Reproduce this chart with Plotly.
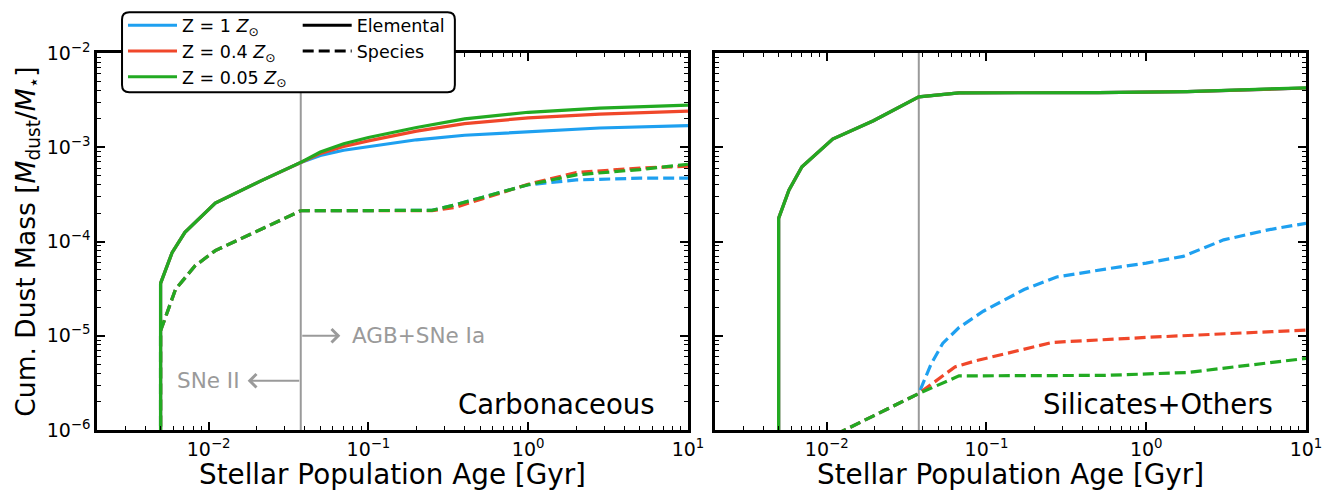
import numpy as np
import plotly.graph_objects as go

# ---------------- data ----------------
T_SPLIT = 0.0377  # Gyr, SNe II / AGB+SNe Ia boundary

# Carbonaceous, elemental (solid)
carb_el_t_early = [0.005, 0.005, 0.0059, 0.0071, 0.0110, 0.0209, 0.0377]
carb_el_v_early = [1e-8, 3.6e-5, 7.6e-5, 1.25e-4, 2.55e-4, 4.35e-4, 6.9e-4]
carb_el_t_late = [0.0377, 0.05, 0.07, 0.1, 0.2, 0.4, 1.0, 2.8, 10.0]
carb_el_blue = [6.9e-4, 8.2e-4, 9.3e-4, 1.02e-3, 1.2e-3, 1.34e-3, 1.47e-3, 1.6e-3, 1.7e-3]
carb_el_red = [6.9e-4, 8.6e-4, 1.02e-3, 1.17e-3, 1.48e-3, 1.78e-3, 2.05e-3, 2.25e-3, 2.42e-3]
carb_el_green = [6.9e-4, 8.9e-4, 1.09e-3, 1.27e-3, 1.62e-3, 2.0e-3, 2.35e-3, 2.6e-3, 2.8e-3]

# Carbonaceous, species (dashed)
carb_sp_t = [0.005, 0.005, 0.0062, 0.0082, 0.0110, 0.0377, 0.25, 0.35, 0.52, 1.0, 2.0, 5.0, 10.0]
carb_sp_blue = [1e-8, 1.13e-5, 3.1e-5, 5.5e-5, 8.0e-5, 2.12e-4, 2.14e-4, 2.45e-4, 2.95e-4, 4.0e-4, 4.5e-4, 4.7e-4, 4.7e-4]
carb_sp_red = [1e-8, 1.13e-5, 3.1e-5, 5.5e-5, 8.0e-5, 2.12e-4, 2.12e-4, 2.3e-4, 2.85e-4, 4.05e-4, 5.4e-4, 6.0e-4, 6.3e-4]
carb_sp_green = [1e-8, 1.13e-5, 3.1e-5, 5.5e-5, 8.0e-5, 2.12e-4, 2.14e-4, 2.45e-4, 2.95e-4, 4.0e-4, 5.1e-4, 5.8e-4, 6.6e-4]

# Silicates+Others, elemental (solid, all metallicities overlap)
sil_el_t = [0.005, 0.005, 0.0058, 0.0070, 0.0109, 0.0196, 0.0377, 0.0673, 0.5, 1.8, 10.0]
sil_el_blue = [1e-8, 1.76e-4, 3.5e-4, 6.2e-4, 1.22e-3, 1.91e-3, 3.43e-3, 3.78e-3, 3.8e-3, 3.9e-3, 4.25e-3]
sil_el_red = [1e-8, 1.76e-4, 3.5e-4, 6.2e-4, 1.22e-3, 1.91e-3, 3.43e-3, 3.78e-3, 3.8e-3, 3.9e-3, 4.25e-3]
sil_el_green = [1e-8, 1.76e-4, 3.5e-4, 6.2e-4, 1.22e-3, 1.91e-3, 3.43e-3, 3.78e-3, 3.8e-3, 3.9e-3, 4.27e-3]

# Silicates+Others, species (dashed)
sil_sp_t_early = [0.005, 0.0109, 0.0196, 0.0377]
sil_sp_v_early = [4.5e-7, 8.6e-7, 1.41e-6, 2.44e-6]
sil_sp_blue_t = [0.0377, 0.045, 0.0532, 0.0673, 0.0955, 0.172, 0.275, 0.556, 1.0, 1.7, 3.05, 5.8, 10.0]
sil_sp_blue = [2.44e-6, 5.0e-6, 8.3e-6, 1.22e-5, 1.82e-5, 3.09e-5, 4.2e-5, 5.1e-5, 5.9e-5, 6.95e-5, 1.04e-4, 1.33e-4, 1.56e-4]
sil_sp_red_t = [0.0377, 0.0635, 0.0849, 0.259, 1.0, 10.0]
sil_sp_red = [2.44e-6, 4.67e-6, 5.4e-6, 8.5e-6, 9.6e-6, 1.15e-5]
sil_sp_green_t = [0.0377, 0.0673, 0.556, 1.8, 3.2, 10.0]
sil_sp_green = [2.44e-6, 3.75e-6, 3.8e-6, 4.07e-6, 4.6e-6, 5.75e-6]

LABELS = ["Z = 1 <i>Z</i><sub>⊙</sub>", "Z = 0.4 <i>Z</i><sub>⊙</sub>", "Z = 0.05 <i>Z</i><sub>⊙</sub>"]
COLORS = ["#1EA0F0", "#F0472A", "#22AA22"]
GRAY = "#9a9a9a"

XTICKS = [1e-2, 1e-1, 1, 10]
XTICKTEXT = ["10<sup>−2</sup>", "10<sup>−1</sup>", "10<sup>0</sup>", "10<sup>1</sup>"]
YTICKS = [1e-6, 1e-5, 1e-4, 1e-3, 1e-2]
YTICKTEXT = ["10<sup>−6</sup>", "10<sup>−5</sup>", "10<sup>−4</sup>", "10<sup>−3</sup>", "10<sup>−2</sup>"]

FONT = "DejaVu Sans"
LW = 3.2
DASH = "11px,5px"

fig = go.Figure()

# vertical boundary lines
for xa, ya in [("x", "y"), ("x2", "y2")]:
    fig.add_trace(go.Scatter(x=[T_SPLIT, T_SPLIT], y=[1e-7, 1], mode="lines",
                             line=dict(color=GRAY, width=2), xaxis=xa, yaxis=ya,
                             showlegend=False, hoverinfo="skip"))

carb_el_late = [carb_el_blue, carb_el_red, carb_el_green]
carb_sp = [carb_sp_blue, carb_sp_red, carb_sp_green]
sil_el = [sil_el_blue, sil_el_red, sil_el_green]
sil_sp = [(sil_sp_blue_t, sil_sp_blue), (sil_sp_red_t, sil_sp_red), (sil_sp_green_t, sil_sp_green)]

for i in range(3):
    c = COLORS[i]
    # left panel
    fig.add_trace(go.Scatter(x=carb_sp_t, y=carb_sp[i], mode="lines",
                             line=dict(color=c, width=LW, dash=DASH),
                             xaxis="x", yaxis="y", showlegend=False))
    fig.add_trace(go.Scatter(x=carb_el_t_early + carb_el_t_late[1:],
                             y=carb_el_v_early + carb_el_late[i][1:], mode="lines",
                             line=dict(color=c, width=LW), name=LABELS[i],
                             xaxis="x", yaxis="y", showlegend=True, legend="legend"))
    # right panel
    st, sv = sil_sp[i]
    fig.add_trace(go.Scatter(x=sil_sp_t_early + st[1:], y=sil_sp_v_early + sv[1:], mode="lines",
                             line=dict(color=c, width=LW, dash=DASH),
                             xaxis="x2", yaxis="y2", showlegend=False))
    fig.add_trace(go.Scatter(x=sil_el_t, y=sil_el[i], mode="lines",
                             line=dict(color=c, width=LW),
                             xaxis="x2", yaxis="y2", showlegend=False))

# line-style legend entries
fig.add_trace(go.Scatter(x=[np.nan], y=[np.nan], mode="lines", name="Elemental",
                         line=dict(color="black", width=LW), xaxis="x", yaxis="y",
                         legend="legend2"))
fig.add_trace(go.Scatter(x=[np.nan], y=[np.nan], mode="lines", name="Species",
                         line=dict(color="black", width=LW, dash=DASH), xaxis="x", yaxis="y",
                         legend="legend2"))

minor_x = [m * 10.0 ** e for e in range(-3, 1) for m in range(2, 10)]
minor_y = [m * 10.0 ** e for e in range(-6, -2) for m in range(2, 10)]

axis_common = dict(type="log", showline=True, linecolor="black", linewidth=2.5,
                   mirror="allticks", ticks="inside", ticklen=8, tickwidth=2.2,
                   tickcolor="black", showgrid=False, zeroline=False,
                   tickfont=dict(family=FONT, size=19, color="black"))

xa = dict(axis_common, range=[np.log10(0.002), 1], tickmode="array",
          tickvals=XTICKS, ticktext=XTICKTEXT,
          minor=dict(ticks="inside", ticklen=4, tickwidth=1.3, tickcolor="black",
                     tickmode="array", tickvals=minor_x, showgrid=False),
          title=dict(text="Stellar Population Age [Gyr]",
                     font=dict(family=FONT, size=27.8, color="black"), standoff=5))
ya = dict(axis_common, range=[-6, -2], tickmode="array",
          tickvals=YTICKS, ticktext=YTICKTEXT,
          minor=dict(ticks="inside", ticklen=4, tickwidth=1.3, tickcolor="black",
                     tickmode="array", tickvals=minor_y, showgrid=False))

LEGFONT = dict(family=FONT, size=17.5, color="black")
fig.update_layout(
    width=1336, height=491,
    margin=dict(l=97, r=30, t=53, b=61, autoexpand=False),
    paper_bgcolor="white", plot_bgcolor="white",
    font=dict(family=FONT, color="black"),
    xaxis=dict(xa, domain=[0, 0.4888], anchor="y"),
    xaxis2=dict(xa, domain=[0.5112, 1], anchor="y2"),
    yaxis=dict(ya, anchor="x",
               title=dict(text="Cum. Dust Mass [<i>M</i><sub>dust</sub>/<i>M</i><sub>⋆</sub>]",
                          font=dict(family=FONT, size=26.5, color="black"), standoff=4)),
    yaxis2=dict(ya, anchor="x2", matches="y", showticklabels=False),
    legend=dict(x=0.0215, y=1.121, xanchor="left", yanchor="top", bgcolor="rgba(0,0,0,0)",
                borderwidth=0, font=LEGFONT, itemwidth=49, tracegroupgap=0),
    legend2=dict(x=0.166, y=1.121, xanchor="left", yanchor="top", bgcolor="rgba(0,0,0,0)",
                 borderwidth=0, font=LEGFONT, itemwidth=49, tracegroupgap=0),
    showlegend=True,
)

# legend frame (rounded corners)
X0, X1, Y0, Y1, R = 0.0207, 0.296, 0.896, 1.108, 0.006
RY = R * 1209 / 377
fig.add_shape(type="path", xref="paper", yref="paper",
              path=(f"M{X0+R},{Y0} L{X1-R},{Y0} Q{X1},{Y0} {X1},{Y0+RY} L{X1},{Y1-RY} "
                    f"Q{X1},{Y1} {X1-R},{Y1} L{X0+R},{Y1} Q{X0},{Y1} {X0},{Y1-RY} "
                    f"L{X0},{Y0+RY} Q{X0},{Y0} {X0+R},{Y0} Z"),
              line=dict(color="black", width=2), fillcolor="white", layer="above")

# annotations
GRAYTXT = dict(family=FONT, size=21.5, color=GRAY)
fig.add_annotation(x=np.log10(0.0667), y=-5, ax=np.log10(T_SPLIT), ay=-5, xref="x", yref="y",
                   axref="x", ayref="y", text="", showarrow=True, arrowhead=4, arrowsize=1.3,
                   arrowwidth=2, arrowcolor=GRAY)
fig.add_annotation(x=-1.118, y=-5, xref="x", yref="y", text="AGB+SNe Ia", showarrow=False,
                   xanchor="left", yanchor="middle", font=GRAYTXT)
fig.add_annotation(x=-1.756, y=-5.478, ax=np.log10(T_SPLIT), ay=-5.478, xref="x", yref="y",
                   axref="x", ayref="y", text="", showarrow=True, arrowhead=4, arrowsize=1.3,
                   arrowwidth=2, arrowcolor=GRAY)
fig.add_annotation(x=-1.80, y=-5.478, xref="x", yref="y", text="SNe II", showarrow=False,
                   xanchor="right", yanchor="middle", font=GRAYTXT)

fig.add_annotation(x=0.947, y=0.069, xref="x domain", yref="y domain", text="Carbonaceous",
                   showarrow=False, xanchor="right", yanchor="middle",
                   font=dict(family=FONT, size=27.5, color="black"))
fig.add_annotation(x=0.947, y=0.069, xref="x2 domain", yref="y2 domain", text="Silicates+Others",
                   showarrow=False, xanchor="right", yanchor="middle",
                   font=dict(family=FONT, size=27.5, color="black"))

fig.write_html("out.html")
